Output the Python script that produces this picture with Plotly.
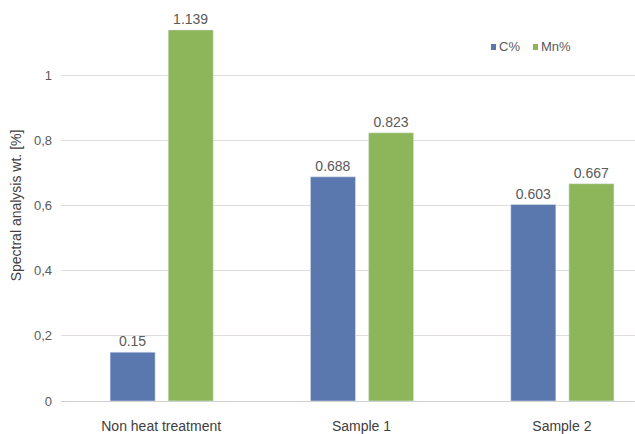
import plotly.graph_objects as go

categories = ["Non heat treatment", "Sample 1", "Sample 2"]
carbon = [0.15, 0.688, 0.603]
manganese = [1.139, 0.823, 0.667]
tick_values = [0, 0.2, 0.4, 0.6, 0.8, 1]
tick_labels = ["0", "0,2", "0,4", "0,6", "0,8", "1"]
series_names = ["C%", "Mn%"]
series_colors = ["#5B78AE", "#8DB65A"]

text_color = "#595959"
family = "Liberation Sans, Arial, sans-serif"
label_font = dict(family=family, size=14, color=text_color)

fig = go.Figure()
for name, values, color, off in [
    (series_names[0], carbon, series_colors[0], -0.255),
    (series_names[1], manganese, series_colors[1], 0.035),
]:
    fig.add_trace(go.Bar(
        name=name, x=categories, y=values,
        marker_color=color, width=0.225, offset=off,
        text=[str(v) for v in values], textposition="outside",
        textfont=label_font, cliponaxis=False, showlegend=False,
    ))

# compact key: small colour square directly followed by the series name
key_left = [0.7491, 0.8223]
key_size_x, key_half_y, key_y = 0.0087, 0.0077, 0.9054
for name, color, kx in zip(series_names, series_colors, key_left):
    fig.add_shape(
        type="rect", xref="paper", yref="paper",
        x0=kx, x1=kx + key_size_x, y0=key_y - key_half_y, y1=key_y + key_half_y,
        fillcolor=color, line_width=0,
    )
    fig.add_annotation(
        xref="paper", yref="paper", x=kx + key_size_x + 0.002, y=key_y,
        xanchor="left", yanchor="middle", showarrow=False,
        text=name, font=dict(family=family, size=13, color=text_color),
    )

fig.update_layout(
    width=635, height=434,
    margin=dict(l=61, r=0, t=10, b=33),
    barmode="overlay", showlegend=False,
    plot_bgcolor="white", paper_bgcolor="white",
    font=dict(family=family, color=text_color),
)
fig.update_xaxes(
    range=[-0.5, 2.365], showgrid=False, showline=False, zeroline=False,
    tickfont=dict(size=14, color="#404040"), ticklabelstandoff=15,
)
fig.update_yaxes(
    range=[0, 1.2], tickvals=tick_values, ticktext=tick_labels,
    showgrid=True, gridcolor="#e2dcdc", gridwidth=1,
    zeroline=True, zerolinecolor="#d0d0d0", zerolinewidth=1,
    tickfont=dict(size=13, color=text_color), ticklabelstandoff=8,
    title=dict(text="Spectral analysis wt. [%]",
               font=dict(size=14, color="#404040"), standoff=9),
)

fig.write_html("out.html")
